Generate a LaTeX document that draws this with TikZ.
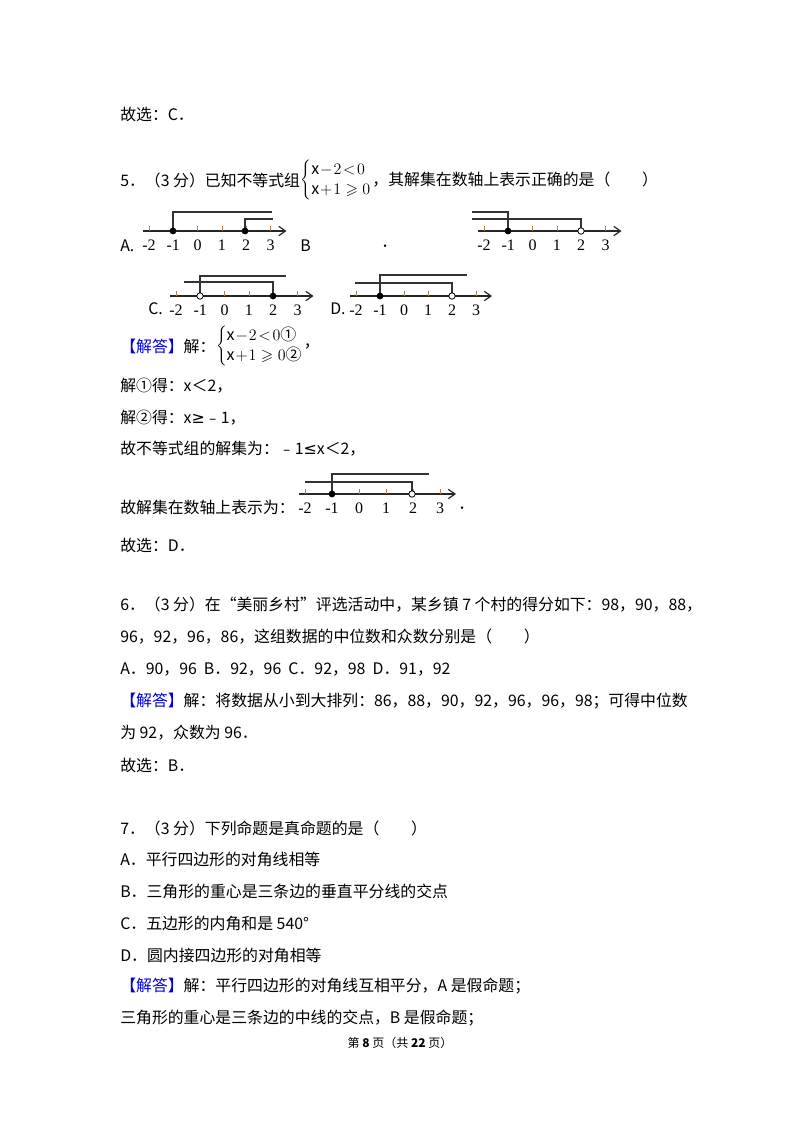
\documentclass[tikz,border=0pt]{standalone}
\usepackage{fontspec}
\usepackage{amssymb}
\setmainfont{Noto Sans CJK SC}
\newfontfamily\numf{Liberation Serif}
\newfontfamily\djv{DejaVu Sans}
\usetikzlibrary{arrows.meta}
\newcommand\numline[3]{% a = x of -2 tick, axis y, spacing
  \draw[line width=0.9pt,gray!30!black,-{Straight Barb[length=5pt,width=7pt]}] ({#1-6},#2) -- ({#1+5*#3+16},#2);
  \foreach \i/\l in {0/-2,1/-1,2/0,3/1,4/2,5/3}{
    \draw[orange!40!gray,line width=0.5pt] ({#1+\i*#3},#2) -- ({#1+\i*#3},{#2-5});
    \node[lab] at ({#1+\i*#3},{#2+14}) {\l};}
}
\newcommand\sysA[2]{$\left\{\renewcommand\arraystretch{1.25}\begin{tabular}{@{}l@{}}\fontsize{12}{14}\selectfont$\mathrm{x}\!-\!2\!<\!0$#1\\\fontsize{12}{14}\selectfont$\mathrm{x}\!+\!1\geqslant 0$#2\end{tabular}\right.$}
\tikzset{txt/.style={anchor=west,inner sep=0pt,font=\fontsize{11.9}{14}\selectfont},
  lab/.style={inner sep=0pt,font=\numf\fontsize{12}{13}\selectfont},
  br/.style={line width=1.1pt,gray!40!black},
  fdot/.style={fill=black,draw=black,line width=0.6pt},
  odot/.style={fill=white,draw=black,line width=0.6pt}}
\begin{document}
\begin{tikzpicture}[x=0.75pt,y=-0.75pt]
\useasboundingbox (0,0) rectangle (800,1132);
\fill[white] (0,0) rectangle (800,1132);
\node[txt] (l1) at (120,114) {故选：C．};
\node[txt] (q5) at (120,180) {5．（3 分）已知不等式组};
\node[anchor=west,inner sep=0pt] (sys1) at (q5.east) {\sysA{}{}};
\node[txt] (q5b) at (sys1.east) {，其解集在数轴上表示正确的是（　　）};
% A
\node[txt] (A) at (120,246) {A.};
\numline{149}{231}{24.3}
\draw[br] (173,231) -- (173,212) -- (272,212);
\draw[br] (245,231) -- (245,219) -- (273,219);
\fill[fdot] (173,231) circle (2.2pt);
\fill[fdot] (245,231) circle (2.2pt);
\node[txt] (B) at (300,246) {B};
\node[txt] (Bd) at (381,246) {．};
% B
\numline{484}{231}{24.3}
\draw[br] (472,212) -- (508,212) -- (508,231);
\draw[br] (472,219) -- (581,219) -- (581,231);
\filldraw[fdot] (508,231) circle (2.2pt);
\filldraw[odot] (581,231) circle (2.4pt);
% C
\node[txt] (C) at (148,309) {C.};
\numline{176}{296}{24.3}
\draw[br] (200,296) -- (200,276) -- (286,276);
\draw[br] (184,282) -- (273,282) -- (273,296);
\filldraw[odot] (200,296) circle (2.4pt);
\filldraw[fdot] (273,296) circle (2.2pt);
% D
\node[txt] (D) at (330,309) {D.};
\numline{356}{296}{24}
\draw[br] (380,296) -- (380,275) -- (467,275);
\draw[br] (355,283) -- (452,283) -- (452,296);
\filldraw[fdot] (380,296) circle (2.2pt);
\filldraw[odot] (452,296) circle (2.4pt);
% solution
\node[txt] (s0) at (120,346) {\textcolor{blue!85!black}{【解答】}解：};
\node[anchor=west,inner sep=0pt] (sys2) at (s0.east) {\sysA{①}{②}};
\node[txt] (s0b) at (sys2.east) {，};
\node[txt] (s1) at (120,386) {解①得：x＜2，};
\node[txt] (s2) at (120,418) {解②得：x{\djv ≥}﹣1，};
\node[txt] (s3) at (120,449) {故不等式组的解集为：﹣1{\djv ≤}x＜2，};
\node[txt] (s4) at (120,507) {故解集在数轴上表示为：};
\numline{305}{494}{27}
\draw[br] (332,494) -- (332,474) -- (429,474);
\draw[br] (305,482) -- (412,482) -- (412,494);
\filldraw[fdot] (332,494) circle (2.2pt);
\filldraw[odot] (412,494) circle (2.4pt);
\node[txt] (s4d) at (458,508) {．};
\node[txt] (s5) at (120,545) {故选：D．};
% Q6
\node[txt] (q6) at (120,605) {6．（3 分）在“美丽乡村”评选活动中，某乡镇 7 个村的得分如下：98，90，88，};
\node[txt] (q6b) at (120,637) {96，92，96，86，这组数据的中位数和众数分别是（　　）};
\node[txt] (q6c) at (120,669) {A．90，96\ \ B．92，96\ \ C．92，98\ \ D．91，92};
\node[txt] (q6d) at (120,701) {\textcolor{blue!85!black}{【解答】}解：将数据从小到大排列：86，88，90，92，96，96，98；可得中位数};
\node[txt] (q6e) at (120,733) {为 92，众数为 96．};
\node[txt] (q6f) at (120,765) {故选：B．};
% Q7
\node[txt] (q7) at (120,828) {7．（3 分）下列命题是真命题的是（　　）};
\node[txt] (q7a) at (120,859) {A．平行四边形的对角线相等};
\node[txt] (q7b) at (120,891) {B．三角形的重心是三条边的垂直平分线的交点};
\node[txt] (q7c) at (120,923) {C．五边形的内角和是 540°};
\node[txt] (q7d) at (120,955) {D．圆内接四边形的对角相等};
\node[txt] (q7e) at (120,986) {\textcolor{blue!85!black}{【解答】}解：平行四边形的对角线互相平分，A 是假命题；};
\node[txt] (q7f) at (120,1018) {三角形的重心是三条边的中线的交点，B 是假命题；};
\node[inner sep=0pt,font=\fontsize{9}{11}\selectfont] (ft) at (400,1043) {第 \textbf{8} 页（共 \textbf{22} 页）};
\end{tikzpicture}
\end{document}
